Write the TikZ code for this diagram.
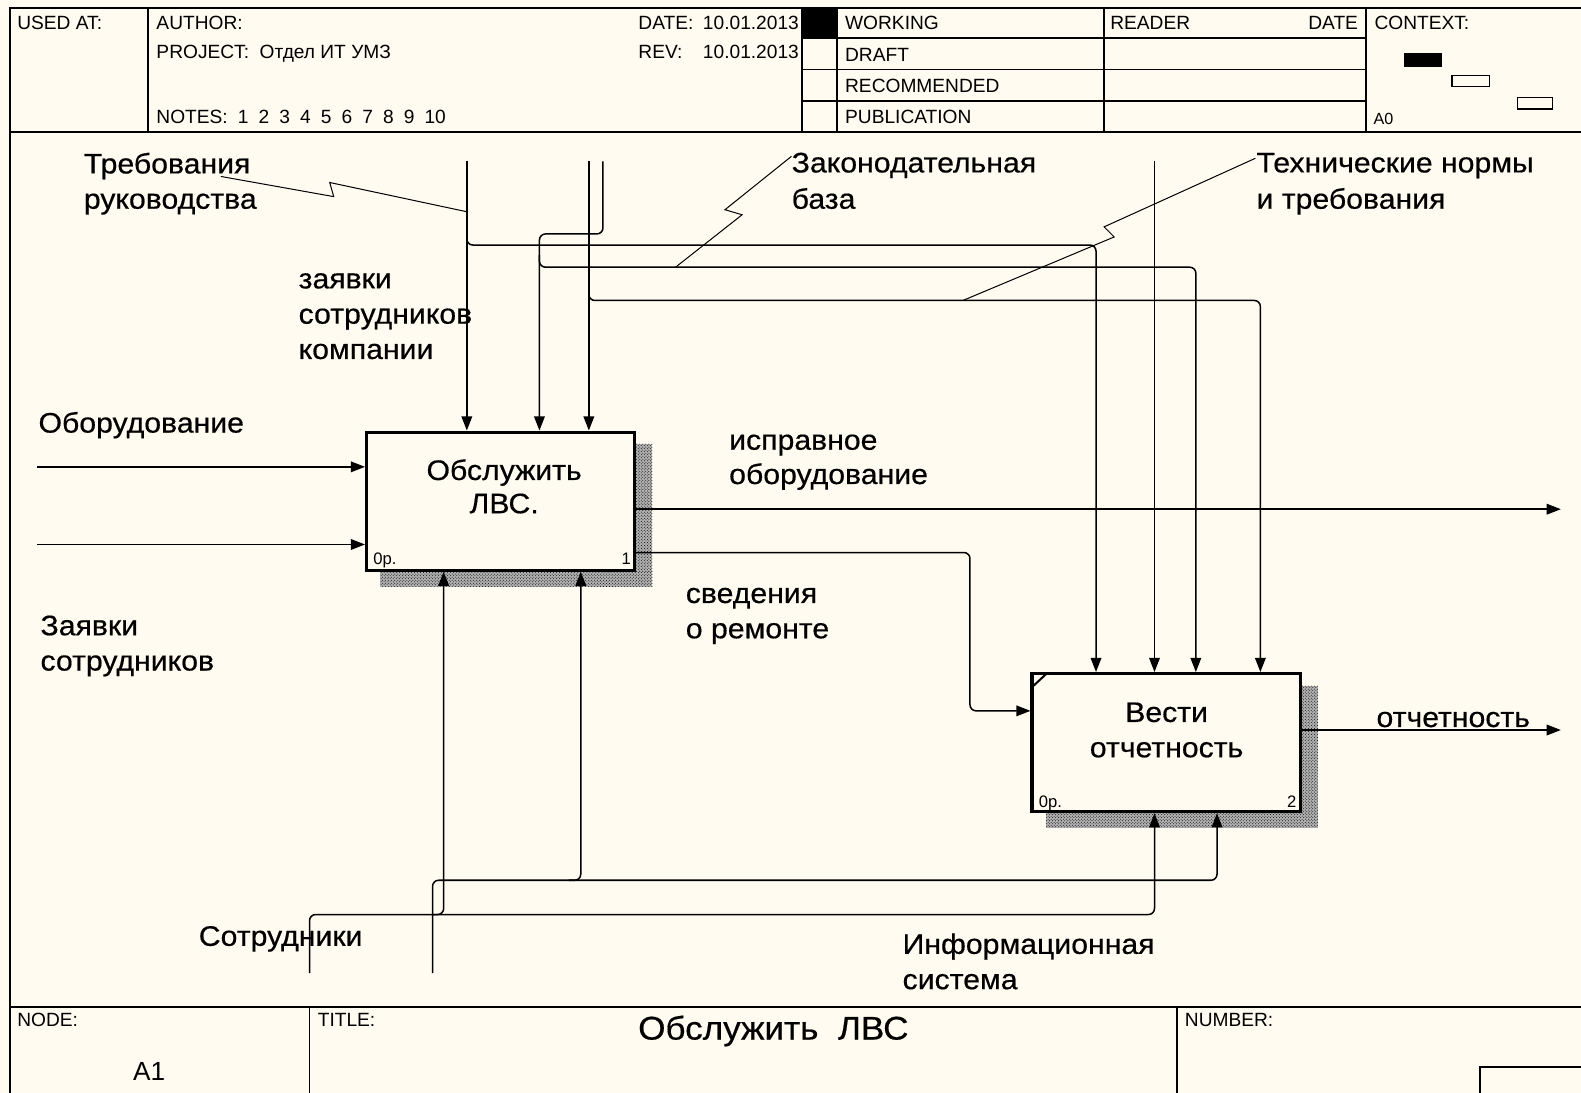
\documentclass[tikz,border=0pt]{standalone}
\usepackage{fontspec}
\setmainfont{Liberation Sans}
\newfontfamily\lblfont{Liberation Sans}[FakeStretch=1.07,FakeBold=0.5]
\usetikzlibrary{arrows.meta,patterns,calc}
\definecolor{bg}{RGB}{255,251,240}
\begin{document}
\begin{tikzpicture}[x=1pt,y=-1pt,
  hdr/.style={font=\fontsize{19}{22}\selectfont, anchor=base west, inner sep=0pt},
  lbl/.style={font=\lblfont\fontsize{28}{32}\selectfont, anchor=base west, inner sep=0pt},
  btxt/.style={font=\lblfont\fontsize{28}{32}\selectfont, anchor=base, inner sep=0pt},
  small/.style={font=\fontsize{16.5}{18}\selectfont, inner sep=0pt},
  fr/.style={line width=1.8pt},
  ln/.style={line width=1.4pt},
  arr/.style={line width=1.5pt, -{Triangle[length=14pt,width=10.5pt]}},
  sq/.style={line width=1pt},
  rc/.style={rounded corners=6pt},
  fbox/.style={draw, line width=3pt, minimum width=266pt, minimum height=137pt, inner sep=0pt, fill=bg},
  shadow/.style={preaction={fill=black!30}, pattern=crosshatch dots, pattern color=black},
]
\useasboundingbox (0,0) rectangle (1568,1084);
\fill[bg] (0,0) rectangle (1568,1084);

% ---------- frame ----------
\draw[fr] (10,1120) -- (10,8) -- (1620,8);
\draw[fr] (10,131) -- (1620,131);
\draw[fr] (10,999) -- (1620,999);
\foreach \x in {147,795,830,1095,1355} \draw[fr] (\x,8) -- (\x,131);
\foreach \y in {38,69,100} \draw[fr] (795,\y) -- (1355,\y);
\fill (795,8) rectangle (830,38);
\fill (1392,53) rectangle (1430,66);
\draw[line width=1.2pt] (1440,75) rectangle (1477,86);
\draw[line width=1.2pt] (1505,97) rectangle (1540,108);

\node[hdr] (usedat) at (17,29.5) {USED AT:};
\node[hdr] (author) at (155,29.5) {AUTHOR:};
\node[hdr] (project) at (155,58.5) {PROJECT:\ \ Отдел ИТ УМЗ};
\node[hdr] (notes) at (155,122.5) {NOTES:\hspace{10pt}1\hspace{10pt}2\hspace{10pt}3\hspace{10pt}4\hspace{10pt}5\hspace{10pt}6\hspace{10pt}7\hspace{10pt}8\hspace{10pt}9\hspace{10pt}10};
\node[hdr] (date) at (633,29.5) {\makebox[64pt][l]{DATE:}10.01.2013};
\node[hdr] (rev) at (633,58.5) {\makebox[64pt][l]{REV:}10.01.2013};
\node[hdr] (working) at (838,29.5) {WORKING};
\node[hdr] (draft) at (838,60.5) {DRAFT};
\node[hdr] (recom) at (838,91.5) {RECOMMENDED};
\node[hdr] (publ) at (838,122.5) {PUBLICATION};
\node[hdr] (reader) at (1101,29.5) {READER};
\node[hdr, anchor=base east] (rdate) at (1347,29.5) {DATE};
\node[hdr] (context) at (1363,29.5) {CONTEXT:};
\node[hdr, font=\fontsize{16}{18}\selectfont] (a0) at (1362,123) {A0};

% ---------- footer ----------
\draw[fr] (307,999) -- (307,1120);
\draw[fr] (1167,999) -- (1167,1120);
\draw[fr] (1468,1120) -- (1468,1058) -- (1620,1058);
\node[hdr] (nodel) at (17,1018) {NODE:};
\node[hdr] (titlel) at (315,1018) {TITLE:};
\node[hdr] (numberl) at (1175,1018) {NUMBER:};
\node[font=\fontsize{26}{30}\selectfont, anchor=base, inner sep=0pt] (a1) at (148,1072) {A1};
\node[font=\lblfont\fontsize{32.5}{36}\selectfont, anchor=base, inner sep=0pt] (title) at (767,1031) {Обслужить\ \ ЛВС};

% ---------- boxes ----------
\fill[shadow] (631,440) rectangle (647,582);
\fill[shadow] (377,567) rectangle (647,582);
\fill[shadow] (1291,680) rectangle (1307,821);
\fill[shadow] (1037,806) rectangle (1307,821);
\node[fbox] (b1) at (496.5,497) {};
\node[fbox] (b2) at (1156.5,736.5) {};
\draw[line width=2pt] (1023,682) -- (1038,668);
\node[btxt] (t1a) at (500,476) {Обслужить};
\node[btxt] (t1b) at (500,509) {ЛВС.};
\node[btxt] (t2a) at (1157,716) {Вести};
\node[btxt] (t2b) at (1157,751) {отчетность};
\node[small, anchor=base west] (n1a) at (370,560) {0р.};
\node[small, anchor=base east] (n1b) at (626,560) {1};
\node[small, anchor=base west] (n2a) at (1030,801) {0р.};
\node[small, anchor=base east] (n2b) at (1286,801) {2};

% ---------- labels ----------
\node[lbl] (l1a) at (83,172) {Требования};
\node[lbl] (l1b) at (83,207) {руководства};
\node[lbl] (l2a) at (296,286) {заявки};
\node[lbl] (l2b) at (296,321) {сотрудников};
\node[lbl] (l2c) at (296,356) {компании};
\node[lbl] (l3a) at (785,171) {Законодательная};
\node[lbl] (l3b) at (785,207) {база};
\node[lbl] (l4a) at (1246,171) {Технические нормы};
\node[lbl] (l4b) at (1246,207) {и требования};
\node[lbl] (l5) at (38,429) {Оборудование};
\node[lbl] (l6a) at (723,446) {исправное};
\node[lbl] (l6b) at (723,480) {оборудование};
\node[lbl] (l7a) at (680,598) {сведения};
\node[lbl] (l7b) at (680,633) {о ремонте};
\node[lbl] (l8a) at (40,630) {Заявки};
\node[lbl] (l8b) at (40,665) {сотрудников};
\node[lbl] (l9) at (1365,721) {отчетность};
\node[lbl] (l10) at (197,938) {Сотрудники};
\node[lbl] (l11a) at (895,946) {Информационная};
\node[lbl] (l11b) at (895,981) {система};

% ---------- free ends ----------
\coordinate (in1) at (37,463);
\coordinate (in2) at (37,540);
\coordinate (out1) at (1548,505);
\coordinate (out2) at (1548,724);
\coordinate (c1) at (463,160);
\coordinate (c2) at (598,160);
\coordinate (c3) at (584,160);
\coordinate (c4) at (1145,160);
\coordinate (m1) at (307,965);
\coordinate (m2) at (429,965);

% inputs
\draw[arr] (in1) -- (in1 -| b1.west);
\draw[arr] (in2) -- (in2 -| b1.west);
% outputs
\draw[arr] (b1.east |- out1) -- (out1);
\draw[arr, rc] (b1.east |- 0,548) -- (962,548) -- (962,705) -- (b2.west |- 0,705);
\draw[arr] (b2.east |- out2) -- (out2);
% controls
\draw[arr] (c1) -- (c1 |- b1.north);
\draw[arr, rc] (463,231) -- (463,243) -- (1087,243) -- (1087,0 |- b2.north);
\draw[arr, rc] (c2) -- (598,232) -- (535,232) -- (535,0 |- b1.north);
\draw[arr, rc] (535,253) -- (535,265) -- (1186,265) -- (1186,0 |- b2.north);
\draw[arr] (c3) -- (c3 |- b1.north);
\draw[arr, rc] (584,286) -- (584,298) -- (1250,298) -- (1250,0 |- b2.north);
\draw[arr] (c4) -- (c4 |- b2.north);
% mechanisms
\draw[arr, rc] (m1) -- (307,907) -- (1145,907) -- (1145,0 |- b2.south);
\draw[arr, rc] (428,907) -- (440,907) -- (440,0 |- b1.south);
\draw[arr, rc] (m2) -- (429,873) -- (1207,873) -- (1207,0 |- b2.south);
\draw[arr, rc] (564,873) -- (576,873) -- (576,0 |- b1.south);

% squiggles
\draw[sq] (219,175) -- (331,195) -- (327,181) -- (463,210);
\draw[sq] (785,155) -- (719,208) -- (736,213) -- (670,265);
\draw[sq] (1245,157) -- (1095,225) -- (1105,235) -- (955,298);
\end{tikzpicture}
\end{document}
